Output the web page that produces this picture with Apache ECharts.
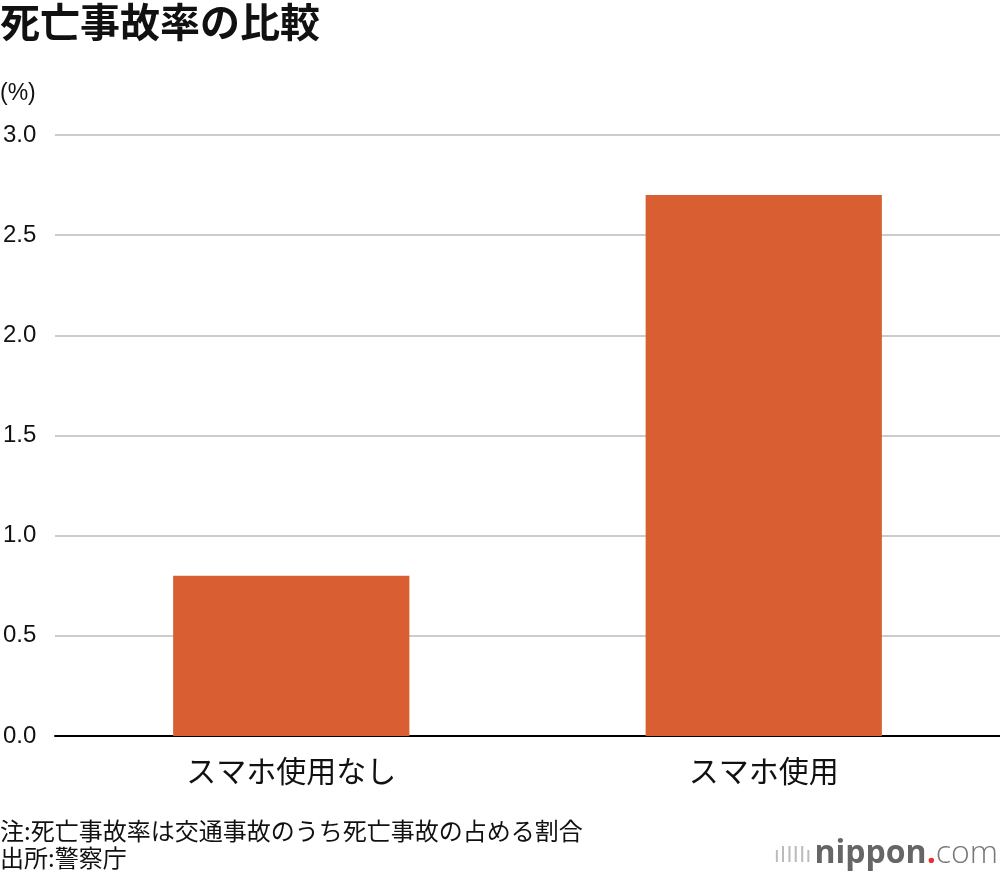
<!DOCTYPE html>
<html>
<head>
<meta charset="utf-8">
<script src="https://cdn.jsdelivr.net/npm/echarts@6/dist/echarts.min.js"></script>
<style>
  html, body { margin: 0; padding: 0; background: #fff; }
  #chart { width: 1000px; height: 880px; }
</style>
</head>
<body>
<div id="chart"></div>
<script>
var categories = ['スマホ使用なし', 'スマホ使用'];
var rates = [0.8, 2.7];
var yTicks = ['0.0', '0.5', '1.0', '1.5', '2.0', '2.5', '3.0'];

var chartDom = document.getElementById('chart');
var myChart = echarts.init(chartDom);
var font = '"Noto Sans CJK JP", "Noto Sans", sans-serif';
var numFont = '"Liberation Sans", Roboto, sans-serif';

var option = {
  textStyle: { fontFamily: font },
  title: {
    text: '死亡事故率の比較',
    left: 0,
    top: 2,
    padding: 0,
    textStyle: { fontSize: 40, fontWeight: 'bold', color: '#111', fontFamily: font }
  },
  grid: {
    left: 52,
    right: 0,
    top: 135,
    bottom: 144,
    containLabel: false
  },
  xAxis: {
    type: 'category',
    data: categories,
    axisLine: { lineStyle: { color: '#000', width: 2 } },
    axisTick: { show: false },
    axisLabel: { fontSize: 30, color: '#111', margin: 20, fontFamily: font }
  },
  yAxis: {
    type: 'value',
    min: 0,
    max: 3,
    interval: 0.5,
    axisLine: { show: false },
    axisTick: { show: false },
    splitLine: { lineStyle: { color: '#cccccc', width: 2 } },
    axisLabel: {
      fontSize: 24,
      color: '#111',
      align: 'left',
      margin: 52,
      fontFamily: numFont,
      formatter: function (v) { return yTicks[Math.round(v * 2)]; }
    }
  },
  series: [
    {
      type: 'bar',
      data: rates,
      barWidth: '50%',
      itemStyle: { color: '#d95f33' },
      silent: true
    }
  ],
  graphic: [
    {
      type: 'text',
      left: 0,
      top: 82,
      style: { text: '(%)', fontSize: 23, fill: '#111', fontFamily: numFont }
    },
    {
      type: 'text',
      left: 0,
      top: 817,
      style: {
        text: '注:死亡事故率は交通事故のうち死亡事故の占める割合\n出所:警察庁',
        fontSize: 24,
        lineHeight: 27,
        fill: '#111',
        fontFamily: font
      }
    },
    {
      type: 'text',
      right: 2,
      top: 838,
      style: {
        text: '{bars|ıIIIIı} {b|nippon}{dot|.}{c|com}',
        rich: {
          bars: { fontSize: 22, fill: '#bbb', fontFamily: font },
          b: { fontSize: 32, fontWeight: 'bold', fill: '#666', fontFamily: '"Open Sans", sans-serif' },
          dot: { fontSize: 32, fontWeight: 'bold', fill: '#e63030', fontFamily: '"Open Sans", sans-serif' },
          c: { fontSize: 32, fill: '#777', fontWeight: 300, fontFamily: '"Open Sans", sans-serif' }
        }
      }
    }
  ]
};
option && myChart.setOption(option);
</script>
</body>
</html>
